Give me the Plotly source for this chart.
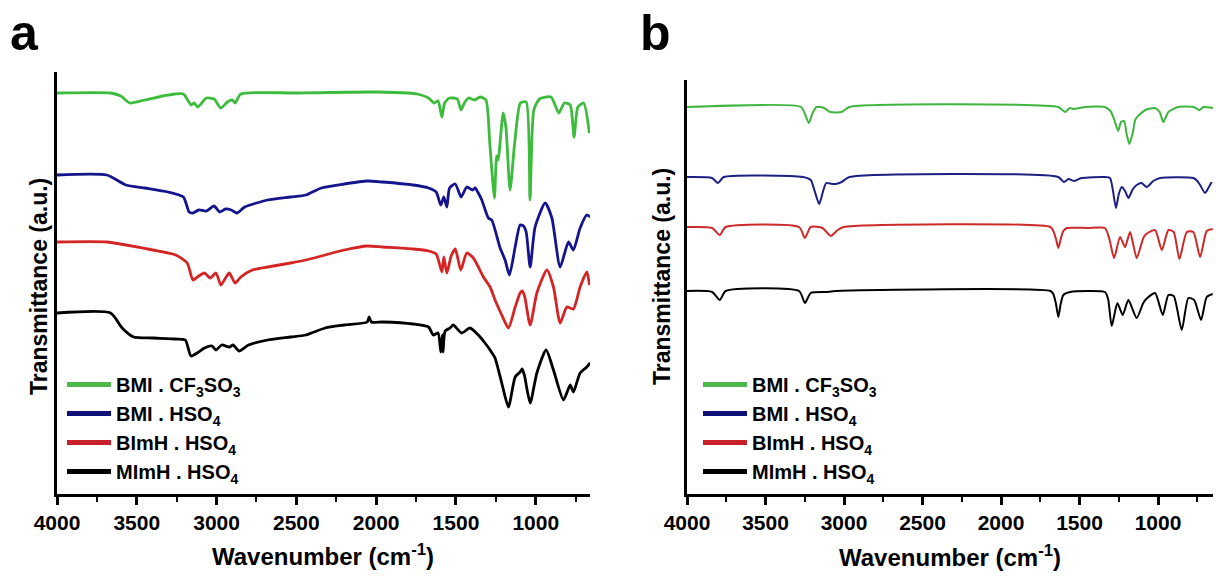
import plotly.graph_objects as go

# ---------------- data (wavenumber cm-1, transmittance a.u. offset) ----------------
names = ["BMI . CF<sub>3</sub>SO<sub>3</sub>", "BMI . HSO<sub>4</sub>",
         "BImH . HSO<sub>4</sub>", "MImH . HSO<sub>4</sub>"]
colors_a = ["#3dbb3d", "#14148c", "#d42424", "#000000"]
colors_b = ["#3fb53f", "#1c2080", "#cc2a2a", "#000000"]
legend_colors = ["#4cb84c", "#10107a", "#c8202a", "#000000"]

x_ticks = [4000, 3500, 3000, 2500, 2000, 1500, 1000]
x_minor = [3750, 3250, 2750, 2250, 1750, 1250, 750]

a_green = [(4000,401),(3664,401),(3600,398),(3544,391),(3450,394),(3304,399),(3208,400),(3160,389),
           (3141,391),(3117,387),(3064,396),(3016,395),(2973,386),(2932,392),(2901,394),(2884,391),
           (2848,400),(2500,401),(2000,402),(1800,401),(1744,400),(1672,396),(1636,391),(1612,393),
           (1588,377),(1571,391),(1540,396),(1492,395),(1468,384),(1444,392),(1420,396),(1384,394),
           (1348,397),(1312,394),(1288,351),(1259,296),(1245,338),(1236,334),(1204,381),(1187,367),
           (1161,304),(1132,351),(1096,391),(1060,392),(1036,294),(1012,384),(976,395),(904,397),
           (856,381),(820,391),(784,389),(760,357),(736,387),(700,391),(664,361)]

a_blue = [(4000,319),(3688,319),(3568,309),(3448,306),(3304,302),(3208,297),(3172,282),(3148,281),
          (3112,284),(3064,283),(3016,288),(2980,282),(2944,285),(2908,284),(2872,281),(2824,287),
          (2680,294),(2536,297),(2440,299),(2344,306),(2200,310),(2056,313),(1960,312),(1768,309),
          (1672,306),(1624,302),(1595,289),(1576,297),(1557,287),(1540,306),(1504,310),(1468,297),
          (1432,307),(1396,304),(1380,306),(1360,301),(1338,294),(1297,276),(1276,274),(1223,246),
          (1192,234),(1165,219),(1129,247),(1098,269),(1077,268),(1060,262),(1035,227),(1004,267),
          (941,291),(899,276),(847,227),(795,252),(764,244),(722,266),(680,279),(659,277)]

a_red = [(4000,252),(3688,252),(3568,249),(3400,244),(3256,239),(3184,231),(3148,214),(3112,218),
         (3076,221),(3040,216),(3004,221),(2973,209),(2944,216),(2920,221),(2884,211),(2848,217),
         (2776,224),(2680,227),(2536,231),(2440,234),(2320,239),(2200,244),(2056,248),(1960,247),
         (1768,245),(1672,243),(1624,240),(1588,222),(1576,237),(1557,221),(1530,238),(1504,245),
         (1470,224),(1432,241),(1391,236),(1328,217),(1286,207),(1255,194),(1213,179),(1171,166),
         (1129,187),(1098,201),(1085,203),(1070,198),(1035,169),(993,201),(930,224),(889,207),
         (847,171),(805,187),(764,185),(722,207),(680,222),(663,209)]

a_black = [(4000,181),(3664,181),(3592,166),(3520,157),(3400,156),(3256,155),(3196,154),(3160,138),
           (3112,142),(3076,146),(3028,148),(3004,144),(2968,149),(2920,147),(2896,149),(2860,143),
           (2800,149),(2680,154),(2536,157),(2440,159),(2320,166),(2200,169),(2056,172),(2044,177),
           (2030,172),(1960,172),(1768,170),(1672,167),(1642,159),(1612,161),(1595,142),(1585,159),
           (1581,142),(1568,163),(1537,166),(1517,169),(1464,161),(1412,166),(1360,159),(1318,151),
           (1286,144),(1270,140),(1255,136),(1213,111),(1171,87),(1129,117),(1098,122),(1085,125),
           (1070,118),(1035,91),(993,121),(935,144),(889,124),(826,94),(784,109),(764,102),
           (722,121),(680,127),(659,131)]

b_green = [(4000,387),(3273,387),(3249,380),(3224,371),(3200,381),(3175,387),(3126,386),(3089,382),
           (3015,382),(2966,387),(1636,387),(1610,384),(1591,382),(1562,386),(1537,385),(1500,386),
           (1463,387),(1340,387),(1303,383),(1278,374),(1254,363),(1236,372),(1216,373),(1200,360),
           (1183,350),(1160,362),(1143,375),(1081,384),(1020,386),(990,382),(966,372),(934,382),
           (872,387),(773,387),(750,385),(737,384),(710,387),(650,386)]

b_blue = [(4000,317),(3840,316),(3803,311),(3766,317),(3261,317),(3212,314),(3187,303),(3158,290),
          (3133,303),(3113,311),(3076,310),(3052,310),(3015,312),(2966,317),(1636,317),(1599,312),
          (1570,315),(1537,313),(1488,316),(1340,317),(1306,316),(1290,306),(1268,286),(1250,300),
          (1231,307),(1210,303),(1189,296),(1160,305),(1136,309),(1105,311),(1072,307),(1030,313),
          (987,316),(775,316),(750,313),(732,309),(701,301),(680,306),(658,312)]

b_red = [(4000,267),(3840,266),(3791,259),(3754,267),(3286,267),(3249,256),(3212,267),(3138,266),
         (3084,258),(3040,264),(3002,267),(1685,267),(1667,263),(1650,255),(1635,246),(1620,255),
         (1603,263),(1580,266),(1450,266),(1338,266),(1310,255),(1280,236),(1242,257),(1210,247),
         (1178,262),(1136,236),(1094,256),(1075,260),(1019,264),(976,244),(934,264),(900,262),
         (864,235),(817,262),(775,262),(732,237),(690,263),(652,265)]

b_black = [(4000,203),(3840,202),(3791,194),(3754,203),(3286,203),(3249,191),(3212,201),(3114,202),
           (3052,203),(1685,203),(1667,200),(1650,190),(1635,177),(1620,190),(1603,199),(1560,202),
           (1450,203),(1338,202),(1318,195),(1295,168),(1259,191),(1225,179),(1189,194),(1136,176),
           (1094,191),(1075,195),(1019,201),(970,179),(934,199),(900,198),(849,164),(807,196),
           (770,194),(726,174),(690,197),(652,200)]

panel_a = [a_green, a_blue, a_red, a_black]
panel_b = [b_green, b_blue, b_red, b_black]

FONT = "Liberation Sans, Arial, sans-serif"

fig = go.Figure()

for series, col in zip(panel_a, colors_a):
    fig.add_trace(go.Scatter(x=[p[0] for p in series], y=[p[1] for p in series], mode="lines",
                             line=dict(color=col, width=2.8, shape="spline", smoothing=0.6),
                             xaxis="x", yaxis="y", showlegend=False, hoverinfo="skip"))
for series, col in zip(panel_b, colors_b):
    fig.add_trace(go.Scatter(x=[p[0] for p in series], y=[p[1] for p in series], mode="lines",
                             line=dict(color=col, width=2, shape="spline", smoothing=0.6),
                             xaxis="x2", yaxis="y2", showlegend=False, hoverinfo="skip"))

# legend entries
for nm, col in zip(names, legend_colors):
    fig.add_trace(go.Scatter(x=[None], y=[None], mode="lines", name=nm,
                             line=dict(color=col, width=5), xaxis="x", yaxis="y",
                             legend="legend", showlegend=True))
for nm, col in zip(names, legend_colors):
    fig.add_trace(go.Scatter(x=[None], y=[None], mode="lines", name=nm,
                             line=dict(color=col, width=5), xaxis="x2", yaxis="y2",
                             legend="legend2", showlegend=True))

W, H = 1216, 576

def px(x):
    return x / W

def py(y):
    return 1 - y / H

xa = dict(showline=True, linewidth=3, linecolor="black", ticks="outside", ticklen=8,
          tickwidth=2.5, tickcolor="black", tickmode="array", tickvals=x_ticks,
          tickfont=dict(family=FONT, size=21, color="black", weight="bold"),
          minor=dict(ticks="outside", ticklen=5, tickwidth=2, tickcolor="black",
                     tickmode="array", tickvals=x_minor),
          showgrid=False, zeroline=False, automargin=False)
ya = dict(showline=True, linewidth=3, linecolor="black", ticks="", showticklabels=False,
          showgrid=False, zeroline=False, automargin=False)

legend_common = dict(xanchor="left", yanchor="top", bgcolor="rgba(0,0,0,0)",
                     font=dict(family=FONT, size=20, color="black", weight="bold"),
                     itemwidth=44, traceorder="normal")

ann_font = lambda s: dict(family=FONT, size=s, color="black", weight="bold")

fig.update_layout(
    width=W, height=H, margin=dict(l=0, r=0, t=0, b=0),
    paper_bgcolor="white", plot_bgcolor="white",
    xaxis=dict(domain=[px(57), px(590)], range=[4000, 660], anchor="y", **xa),
    yaxis=dict(domain=[py(494), py(72)], range=[0, 422], anchor="x", **ya),
    xaxis2=dict(domain=[px(687), px(1213)], range=[4000, 650], anchor="y2", **xa),
    yaxis2=dict(domain=[py(494), py(80)], range=[0, 414], anchor="x2", **ya),
    legend=dict(x=px(62), y=py(365), **legend_common),
    legend2=dict(x=px(698), y=py(365), **legend_common),
    annotations=[
        dict(text="a", x=px(24), y=py(33), xref="paper", yref="paper", showarrow=False,
             xanchor="center", yanchor="middle", font=ann_font(50)),
        dict(text="b", x=px(655), y=py(33), xref="paper", yref="paper", showarrow=False,
             xanchor="center", yanchor="middle", font=ann_font(50)),
        dict(text="Wavenumber (cm<sup>-1</sup>)", x=px(323), y=py(555), xref="paper", yref="paper",
             xanchor="center", yanchor="middle", showarrow=False, font=ann_font(24)),
        dict(text="Wavenumber (cm<sup>-1</sup>)", x=px(950), y=py(556), xref="paper", yref="paper",
             xanchor="center", yanchor="middle", showarrow=False, font=ann_font(24)),
        dict(text="Transmittance (a.u.)", x=px(39), y=py(287), xref="paper", yref="paper",
             xanchor="center", yanchor="middle", textangle=-90, showarrow=False, font=ann_font(23)),
        dict(text="Transmittance (a.u.)", x=px(662), y=py(277), xref="paper", yref="paper",
             xanchor="center", yanchor="middle", textangle=-90, showarrow=False, font=ann_font(23)),
    ],
)

fig.write_html("out.html")
